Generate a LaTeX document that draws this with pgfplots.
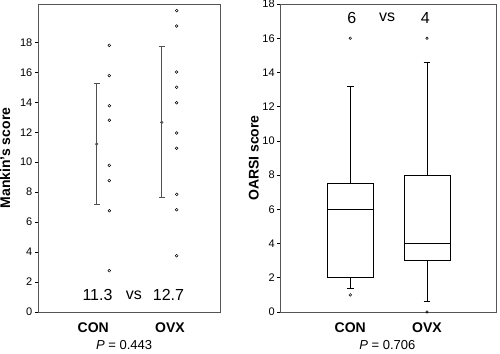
\documentclass[border=0pt]{standalone}
\usepackage{fontspec}
\setmainfont{Liberation Sans}
\usepackage{pgfplots}
\pgfplotsset{compat=1.18}
\usepgfplotslibrary{statistics}
\definecolor{spine}{HTML}{555555}
\definecolor{ebar}{HTML}{505050}
\begin{document}
\begin{tikzpicture}
\path[use as bounding box] (0,0) rectangle (500pt,353pt);
\pgfplotsset{
  common/.style={
    scale only axis,
    anchor=south west,
    axis line style={line width=0.9pt, draw=spine},
    ytick pos=left,
    tick align=outside,
    major tick length=3.5pt,
    ytick style={black, line width=0.6pt},
    xtick={1,2},
    xticklabels={CON,OVX},
    xtick style={draw=none},
    xticklabel style={font=\fontsize{14}{14}\selectfont\bfseries, yshift=-4pt},
    yticklabel style={font=\fontsize{11}{11}\selectfont, xshift=1pt},
    /pgf/number format/assume math mode=true,
    clip=false,
  }
}
% ---------------- left panel ----------------
\begin{axis}[common,
  at={(38.3pt,41pt)}, width=181.7pt, height=308pt,
  xmin=0.283, xmax=2.652, ymin=0, ymax=20.56,
  ytick={0,2,...,18},
  ylabel={Mankin's score},
  ylabel style={font=\fontsize{14}{14}\selectfont\bfseries, at={(rel axis cs:-0.183,0.5)}, anchor=center, rotate=0},
]
% means with bars
\addplot[draw=none, mark=o, mark size=1.3pt, mark options={ebar, line width=0.6pt},
  error bars/.cd, y dir=both, y explicit,
  error bar style={line width=1.2pt, ebar},
  error mark options={rotate=90, mark size=3pt, line width=1pt, ebar}]
  coordinates {
    (1.044,11.21) +- (0,4.01)
    (1.892,12.66) +- (0,5.03)
  };
% individual values CON
\addplot[only marks, mark=o, mark size=1.4pt, mark options={black, line width=0.5pt}]
  coordinates {(1.209,17.8) (1.209,15.78) (1.209,13.77) (1.209,12.8) (1.209,9.79) (1.209,8.77) (1.209,6.76) (1.209,2.76)};
% individual values OVX
\addplot[only marks, mark=o, mark size=1.4pt, mark options={black, line width=0.5pt}]
  coordinates {(2.087,20.12) (2.087,19.09) (2.087,16.02) (2.087,15.0) (2.087,13.97) (2.087,11.95) (2.087,10.93) (2.087,7.85) (2.087,6.83) (2.087,3.76)};
\node[font=\fontsize{16}{16}\selectfont] at (axis cs:1.055,1.13) {11.3};
\node[font=\fontsize{16}{16}\selectfont] at (axis cs:1.53,1.13) {vs};
\node[font=\fontsize{16}{16}\selectfont] at (axis cs:1.98,1.13) {12.7};
\node[font=\fontsize{13}{13}\selectfont] at (rel axis cs:0.472,-0.107) {\textit{P} = 0.443};
\end{axis}
% ---------------- right panel ----------------
\begin{axis}[common,
  at={(280.7pt,41pt)}, width=216pt, height=308pt,
  xmin=0.093, xmax=2.909, ymin=0, ymax=18,
  ytick={0,2,...,18},
  ylabel={OARSI score},
  ylabel style={font=\fontsize{14}{14}\selectfont\bfseries, at={(rel axis cs:-0.124,0.5)}, anchor=center, rotate=0},
  boxplot/draw direction=y,
  boxplot/box extend=0.6,
  boxplot/whisker extend=0.09,
]
\addplot[black, line width=0.8pt, mark=o, mark size=1.3pt, mark options={black, line width=0.5pt},
  boxplot prepared={draw position=1, lower whisker=1.4, lower quartile=2, median=6, upper quartile=7.5, upper whisker=13.2}]
  coordinates {(0,16) (0,1.0)};
\addplot[black, line width=0.8pt, mark=o, mark size=1.3pt, mark options={black, line width=0.5pt},
  boxplot prepared={draw position=2, lower whisker=0.6, lower quartile=3, median=4, upper quartile=8, upper whisker=14.6}]
  coordinates {(0,16) (0,0)};
\node[font=\fontsize{16}{16}\selectfont] at (axis cs:1.02,17.2) {6};
\node[font=\fontsize{16}{16}\selectfont] at (axis cs:1.48,17.2) {vs};
\node[font=\fontsize{16}{16}\selectfont] at (axis cs:1.98,17.2) {4};
\node[font=\fontsize{13}{13}\selectfont] at (rel axis cs:0.494,-0.108) {\textit{P} = 0.706};
\end{axis}
\end{tikzpicture}
\end{document}
